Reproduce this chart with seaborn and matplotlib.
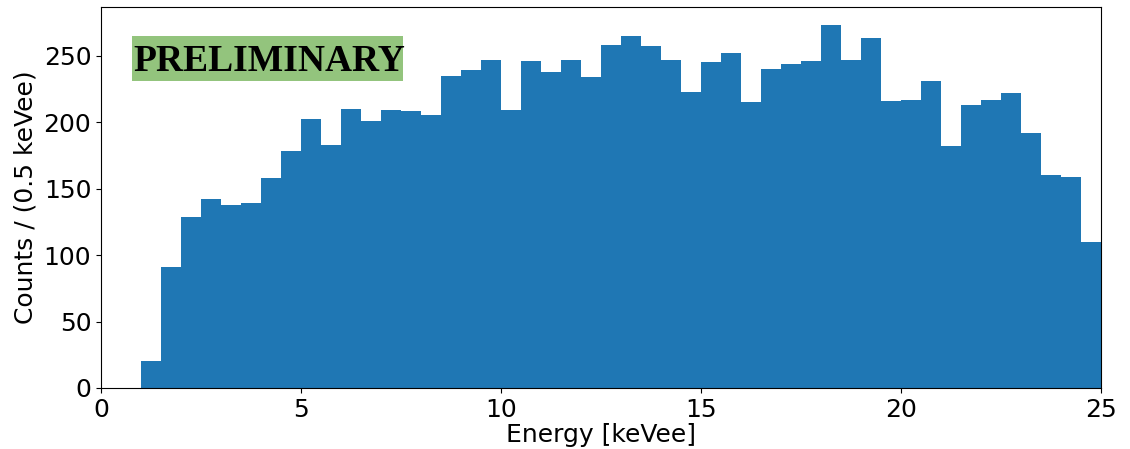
import numpy as np
import pandas as pd
import matplotlib
matplotlib.use("Agg")
import matplotlib.pyplot as plt
import seaborn as sns
from matplotlib.patches import Rectangle

# bin lower edges [keVee], 0.5 keVee wide, from 1 to 25
bin_lo = np.arange(1.0, 25.0, 0.5)
bin_width = 0.5

# counts per bin
counts = [20, 91, 129, 142, 138, 139, 158, 178, 202, 183,
          210, 201, 209, 208, 205, 235, 239, 247, 209, 246,
          238, 247, 234, 258, 265, 257, 247, 223, 245, 252,
          215, 240, 244, 246, 273, 247, 263, 216, 217, 231,
          182, 213, 217, 222, 192, 160, 159, 110]

df = pd.DataFrame({"energy": bin_lo + bin_width / 2, "counts": counts})

fig = plt.figure(figsize=(11.3, 4.49), dpi=100)
ax = fig.add_axes([0.0894, 0.1359, 0.885, 0.8485])

sns.histplot(data=df, x="energy", weights="counts",
             binwidth=bin_width, binrange=(1.0, 25.0),
             color="#1f77b4", alpha=1, linewidth=0, ax=ax)

ax.set_xlim(0, 25)
ax.set_ylim(0, 286.6)
ax.set_xticks([0, 5, 10, 15, 20, 25])
ax.set_yticks([0, 50, 100, 150, 200, 250])
ax.tick_params(labelsize=18)
ax.set_xlabel("Energy [keVee]", fontsize=18, labelpad=1)
ax.set_ylabel("Counts / (0.5 keVee)", fontsize=18)

# green "PRELIMINARY" tag
ax.add_patch(Rectangle((0.031, 0.806), 0.271, 0.118, transform=ax.transAxes,
                       fc="#93c47d", ec="none", zorder=3))
ax.text(0.032, 0.858, "PRELIMINARY", transform=ax.transAxes,
        ha="left", va="center", fontsize=27, fontweight="bold",
        family="Liberation Serif", zorder=4)

fig.savefig("out.png", dpi=100)
